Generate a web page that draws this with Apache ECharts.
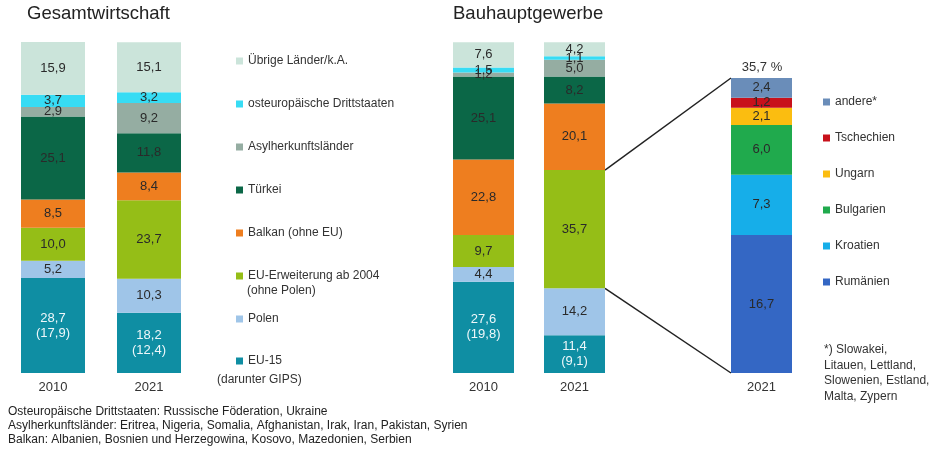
<!DOCTYPE html>
<html>
<head>
<meta charset="utf-8">
<script src="https://cdn.jsdelivr.net/npm/echarts@6/dist/echarts.min.js"></script>
<style>
  html, body { margin: 0; padding: 0; background: #fff; }
  #main { width: 930px; height: 450px; }
</style>
</head>
<body>
<div id="main"></div>
<script>
// Ausländische Beschäftigte nach Herkunft, Anteile in %
var years = ['2010', '2021'];

// Reihenfolge von unten nach oben
var groupNames = ['EU-15', 'Polen', 'EU-Erweiterung ab 2004', 'Balkan (ohne EU)', 'Türkei',
  'Asylherkunftsländer', 'osteuropäische Drittstaaten', 'Übrige Länder/k.A.'];
var groupColors = ['#0f8ea3', '#9fc5e8', '#95be17', '#ee7e1f', '#0b6747',
  '#95ada2', '#37dcf4', '#cbe4da'];

var gesamt2010 = [28.7, 5.2, 10.0, 8.5, 25.1, 2.9, 3.7, 15.9];
var gesamt2021 = [18.2, 10.3, 23.7, 8.4, 11.8, 9.2, 3.2, 15.1];
var gesamtGips = [17.9, 12.4];

var bau2010 = [27.6, 4.4, 9.7, 22.8, 25.1, 1.2, 1.5, 7.6];
var bau2021 = [11.4, 14.2, 35.7, 20.1, 8.2, 5.0, 1.1, 4.2];
var bauGips = [19.8, 9.1];

// EU-Erweiterung im Bauhauptgewerbe 2021, von unten nach oben
var euNames = ['Rumänien', 'Kroatien', 'Bulgarien', 'Ungarn', 'Tschechien', 'andere*'];
var euColors = ['#3467c4', '#16aee9', '#20aa4d', '#fbbd10', '#c8111b', '#6a8db9'];
var euValues = [16.7, 7.3, 6.0, 2.1, 1.2, 2.4];

var FONT = 'Liberation Sans, Arial, sans-serif';

function fmt(v) {
  return v.toFixed(1).replace('.', ',');
}

var myChart = echarts.init(document.getElementById('main'));

function mainSeries(gridIdx, v2010, v2021, gips, barW) {
  var out = [];
  for (var i = 0; i < groupNames.length; i++) {
    (function (i) {
      out.push({
        name: groupNames[i],
        type: 'bar',
        stack: 'g' + gridIdx,
        xAxisIndex: gridIdx,
        yAxisIndex: gridIdx,
        barWidth: barW,
        itemStyle: { color: groupColors[i] },
        label: {
          show: true,
          position: 'inside',
          fontFamily: FONT,
          fontSize: 13,
          lineHeight: 15,
          color: i == 0 ? '#eef7fa' : '#2a2a2a',
          formatter: function (p) {
            var s = fmt(p.value);
            if (i == 0) s += '\n(' + fmt(gips[p.dataIndex]) + ')';
            return s;
          }
        },
        data: [v2010[i], v2021[i]]
      });
    })(i);
  }
  return out;
}

var series = mainSeries(0, gesamt2010, gesamt2021, gesamtGips, 64)
  .concat(mainSeries(1, bau2010, bau2021, bauGips, 61));

for (var j = 0; j < euNames.length; j++) {
  series.push({
    name: euNames[j],
    type: 'bar',
    stack: 'eu',
    xAxisIndex: 2,
    yAxisIndex: 2,
    barWidth: 61,
    itemStyle: { color: euColors[j] },
    label: {
      show: true,
      position: 'inside',
      fontFamily: FONT,
      fontSize: 13,
      color: '#2a2a2a',
      formatter: function (p) { return fmt(p.value); }
    },
    data: [euValues[j]]
  });
}

var euTotal = euValues.reduce(function (a, b) { return a + b; }, 0);

function catAxis(idx, data) {
  return {
    type: 'category', gridIndex: idx, data: data,
    axisLine: { show: false }, axisTick: { show: false },
    axisLabel: { fontFamily: FONT, fontSize: 13, color: '#333', margin: 8 }
  };
}
function valAxis(idx, max) {
  return { type: 'value', gridIndex: idx, min: 0, max: max, show: false };
}

// linke Legende: Positionen wie im Original
var legendTops = [60, 103, 146, 189, 232, 275, 318, 360];
var legends = [];
for (var k = 0; k < groupNames.length; k++) {
  legends.push({
    data: [groupNames[groupNames.length - 1 - k]],
    left: 236,
    top: legendTops[k] - 5,
    padding: 0,
    itemWidth: 7,
    itemHeight: 7,
    icon: 'rect',
    selectedMode: false,
    textStyle: { fontFamily: FONT, fontSize: 12, color: '#333' }
  });
}
legends.push({
  data: euNames.slice().reverse(),
  orient: 'vertical',
  left: 823,
  top: 96,
  padding: 0,
  itemGap: 24,
  itemWidth: 7,
  itemHeight: 7,
  icon: 'rect',
  selectedMode: false,
  textStyle: { fontFamily: FONT, fontSize: 12, color: '#333' }
});

var staticGraphics = [
  { id: 't1', type: 'text', x: 27, y: 14, style: { text: 'Gesamtwirtschaft', font: '18.5px ' + FONT, fill: '#222', verticalAlign: 'middle' } },
  { id: 't2', type: 'text', x: 453, y: 14, style: { text: 'Bauhauptgewerbe', font: '18.5px ' + FONT, fill: '#222', verticalAlign: 'middle' } },
  { id: 'ohne', type: 'text', left: 247, top: 285, style: { text: '(ohne Polen)', font: '12px ' + FONT, fill: '#333' } },
  { id: 'gips', type: 'text', left: 217, top: 374, style: { text: '(darunter GIPS)', font: '12px ' + FONT, fill: '#333' } },
  { id: 'tot', type: 'text', x: 762, y: 67, style: { text: fmt(euTotal) + ' %', font: '13px ' + FONT, fill: '#333', align: 'center', verticalAlign: 'middle' } },
  { id: 'fn', type: 'text', left: 824, top: 342, style: {
      text: '*) Slowakei,\nLitauen, Lettland,\nSlowenien, Estland,\nMalta, Zypern',
      font: '12px ' + FONT, lineHeight: 15.5, fill: '#333' } },
  { id: 'notes', type: 'text', left: 8, top: 405, style: {
      text: 'Osteuropäische Drittstaaten: Russische Föderation, Ukraine\n' +
            'Asylherkunftsländer: Eritrea, Nigeria, Somalia, Afghanistan, Irak, Iran, Pakistan, Syrien\n' +
            'Balkan: Albanien, Bosnien und Herzegowina, Kosovo, Mazedonien, Serbien',
      font: '12px ' + FONT, lineHeight: 14, fill: '#222' } }
];

var option = {
  animation: false,
  textStyle: { fontFamily: FONT },
  grid: [
    { left: 5, width: 192, top: 42, bottom: 77 },
    { left: 438, width: 182, top: 42, bottom: 77 },
    { left: 731, width: 61, top: 78, bottom: 77 }
  ],
  xAxis: [catAxis(0, years), catAxis(1, years), catAxis(2, ['2021'])],
  yAxis: [valAxis(0, 100), valAxis(1, 100), valAxis(2, euTotal)],
  legend: legends,
  graphic: staticGraphics,
  series: series
};

myChart.setOption(option);

// Verbindungslinien zwischen EU-Erweiterung (Bau 2021) und der Aufschlüsselung
var lower = bau2021[0] + bau2021[1];
var upper = lower + bau2021[2];
var pUp = myChart.convertToPixel({ gridIndex: 1 }, ['2021', upper]);
var pLo = myChart.convertToPixel({ gridIndex: 1 }, ['2021', lower]);
var qUp = myChart.convertToPixel({ gridIndex: 2 }, ['2021', euTotal]);
var qLo = myChart.convertToPixel({ gridIndex: 2 }, ['2021', 0]);

myChart.setOption({
  graphic: staticGraphics.concat([
    { id: 'l1', type: 'line', shape: { x1: pUp[0] + 30.5, y1: pUp[1], x2: qUp[0] - 30.5, y2: qUp[1] },
      style: { stroke: '#222', lineWidth: 1.5 } },
    { id: 'l2', type: 'line', shape: { x1: pLo[0] + 30.5, y1: pLo[1], x2: qLo[0] - 30.5, y2: qLo[1] },
      style: { stroke: '#222', lineWidth: 1.5 } }
  ])
});
</script>
</body>
</html>
